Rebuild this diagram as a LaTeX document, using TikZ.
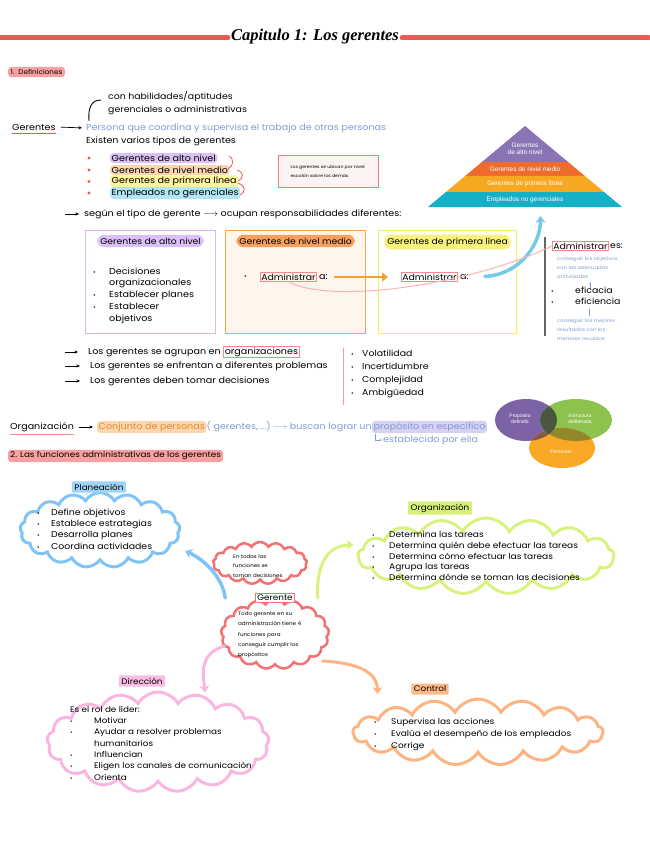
\documentclass[tikz,border=0pt]{standalone}
\usepackage{fontspec}
\setmainfont{Poppins}[FakeStretch=1.1]
\newfontfamily\pyrfont{Liberation Sans}
\newfontfamily\titlefont{Liberation Serif}
\usetikzlibrary{shapes.symbols,arrows.meta,positioning,calc}

\definecolor{tred}{HTML}{F25757}
\definecolor{secpink}{HTML}{F8A0A0}
\definecolor{tblue}{HTML}{7D9DD0}
\definecolor{hpurple}{HTML}{DDBFF7}
\definecolor{horange}{HTML}{FDD5B0}
\definecolor{hyellow}{HTML}{FBF59E}
\definecolor{hcyan}{HTML}{B2E6F7}
\definecolor{hlav}{HTML}{D9D1F2}
\definecolor{bxpurple}{HTML}{D9B5EF}
\definecolor{bxorange}{HTML}{F6A24E}
\definecolor{bxyellow}{HTML}{F7EF5C}
\definecolor{pillorange}{HTML}{F7A05E}
\definecolor{pillyellow}{HTML}{F8F27A}
\definecolor{arrorange}{HTML}{F5A033}
\definecolor{arrcyan}{HTML}{74CBE6}
\definecolor{pyrpur}{HTML}{8A74B4}
\definecolor{pyrred}{HTML}{EE6B2D}
\definecolor{pyrora}{HTML}{F6A823}
\definecolor{pyrteal}{HTML}{15AFC6}
\definecolor{vpur}{HTML}{7D62A6}
\definecolor{vgre}{HTML}{8DC24F}
\definecolor{vora}{HTML}{F8A824}
\definecolor{cblue}{HTML}{80C4F7}
\definecolor{clime}{HTML}{D8F27E}
\definecolor{corange}{HTML}{FDB482}
\definecolor{cpink}{HTML}{FBB6E0}
\definecolor{cred}{HTML}{F27272}
\definecolor{tagblue}{HTML}{9ED4F7}
\definecolor{taglime}{HTML}{D6F07A}
\definecolor{tagorange}{HTML}{FDBA8A}
\definecolor{tagpink}{HTML}{F9BCE4}

\newcommand{\bul}[1][14pt]{\makebox[#1][l]{\scalebox{.7}{\textbullet}}}
\newcommand{\rmark}[1]{{\setlength{\fboxsep}{.8pt}\setlength{\fboxrule}{.6pt}\fcolorbox{tred!70}{white}{#1}}}

\begin{document}
\begin{tikzpicture}[x=1pt,y=-1pt,
    txt/.style={anchor=west,inner sep=0pt,font=\fontsize{8.7}{10}\selectfont},
    blu/.style={txt,text=tblue},
    lst/.style={txt,align=left},
    tinytxt/.style={anchor=west,inner sep=0pt,align=left,text=tblue,font=\fontsize{4.8}{9}\selectfont},
    hl/.style={txt,inner sep=1.5pt,rounded corners=3pt},
    pill/.style={inner sep=3pt,rounded corners=7pt,font=\fontsize{8.4}{9}\selectfont},
    redbox/.style={anchor=west,draw=tred!70,line width=.6pt,inner sep=1pt,font=\fontsize{8.5}{10}\selectfont},
    arr/.style={-{Stealth[length=3.5pt,width=3pt]},line width=.7pt},
    puff/.style={cloud,cloud puffs=17,cloud puff arc=120,cloud ignores aspect,draw,line width=3pt},
    tag/.style={inner sep=2.5pt,rounded corners=1pt,font=\fontsize{8}{9}\selectfont},
    thickarr/.style={line width=3.5pt,line cap=round,-{Stealth[length=7pt,width=10pt]}},
    pyr/.style={text=white,align=center,font=\pyrfont\fontsize{6.5}{9}\selectfont}
  ]
  \useasboundingbox (0,0) rectangle (649,848);

  % titulo
  \node[font=\titlefont\bfseries\itshape\fontsize{16.5}{18}\selectfont,inner sep=3pt] (title) at (315,37) {Capitulo 1: Los gerentes};
  \coordinate (tl) at (0,38);
  \coordinate (tr) at (649,38);
  \draw[tred,line width=5pt,line cap=round] (tl) -- (title.west |- tl);
  \draw[tred,line width=5pt,line cap=round] (title.east |- tr) -- (tr);

  % 1. definiciones
  \node[hl,fill=secpink,font=\fontsize{6.6}{7}\selectfont,inner sep=2.5pt] (sec1) at (8,72) {1.\ \ Definiciones};
  \node[txt] (ger) at (12,127) {Gerentes};
  \draw[tred,line width=1pt] ($(ger.south west)+(0,3)$) -- ($(ger.south east)+(0,3)$);
  \node[blu] (def) at (86,128) {Persona que coordina y supervisa el trabajo de otras personas};
  \draw[arr,shorten <=5pt,shorten >=4pt] (ger.east) -- (def.west);
  \node[lst,font=\fontsize{8.5}{13}\selectfont] (hab) at (108,103.5) {con habilidades/aptitudes\\gerenciales o administrativas};
  \draw[line width=.9pt] (89,121) .. controls (88,108) and (91,100) .. (101,100);
  \node[txt] (tipos) at (86,141) {Existen varios tipos de gerentes};

  % tipos de gerentes
  \node[hl,fill=hpurple] (alto) at (110,158) {Gerentes de alto nivel};
  \node[hl,fill=horange] (medio) at (110,170) {Gerentes de nivel medio};
  \node[hl,fill=hyellow] (prim) at (110,181.5) {Gerentes de primera línea};
  \node[hl,fill=hcyan] (emp) at (110,193) {Empleados no gerenciales};
  \foreach \y in {158,170,181.5,193} \fill[tred] (89,\y) circle (1.7);
  \draw[tred,line width=.8pt] (229,156) .. controls (234,158) and (234,166) .. (228,169);
  \draw[tred,line width=.8pt] (237,170) .. controls (244,172) and (244,178) .. (238,181);
  \draw[tred,line width=.8pt] (238,183) .. controls (246,186) and (246,192) .. (240,195);
  \node[draw=tred!80,fill=tred!7,line width=.9pt,minimum width=100,minimum height=32,align=left,font=\fontsize{4.2}{9}\selectfont] (nota) at (328,171) {Los gerentes se ubican por nivel:\\escalón sobre los demás};

  % piramide
  \coordinate (apex) at (525,126);
  \coordinate (bl) at (428,207);
  \coordinate (br) at (622,207);
  \fill[pyrpur] (apex) -- ($(apex)!.444!(bl)$) -- ($(apex)!.444!(br)$) -- cycle;
  \fill[pyrred] ($(apex)!.444!(bl)$) -- ($(apex)!.617!(bl)$) -- ($(apex)!.617!(br)$) -- ($(apex)!.444!(br)$) -- cycle;
  \fill[pyrora] ($(apex)!.617!(bl)$) -- ($(apex)!.815!(bl)$) -- ($(apex)!.815!(br)$) -- ($(apex)!.617!(br)$) -- cycle;
  \fill[pyrteal] ($(apex)!.815!(bl)$) -- (bl) -- (br) -- ($(apex)!.815!(br)$) -- cycle;
  \node[pyr] (py1) at (525,149) {Gerentes\\[-2pt]de alto nivel};
  \node[pyr] (py2) at (525,169) {Gerentes de nivel medio};
  \node[pyr] (py3) at (525,184) {Gerentes de primera línea};
  \node[pyr] (py4) at (525,199.5) {Empleados no gerenciales};

  % responsabilidades
  \node[txt] (segun) at (84,214) {según el tipo de gerente $\longrightarrow$ ocupan responsabilidades diferentes:};
  \coordinate (s0) at (65,214);
  \draw[arr,shorten >=5pt] (s0) -- (segun.west);
  \node[draw=bxpurple,line width=1pt,minimum width=130,minimum height=103,anchor=north west] (bxA) at (85,230) {};
  \node[draw=bxorange,fill=bxorange!10,line width=1.2pt,minimum width=140,minimum height=103,anchor=north west] (bxM) at (225,230) {};
  \node[draw=bxyellow,line width=1.2pt,minimum width=138,minimum height=103,anchor=north west] (bxP) at (378,230) {};
  \node[pill,fill=hpurple] (pA) at ($(bxA.north)+(0,11)$) {Gerentes de alto nivel};
  \node[pill,fill=pillorange] (pM) at ($(bxM.north)+(0,11)$) {Gerentes de nivel medio};
  \node[pill,fill=pillyellow] (pP) at ($(bxP.north)+(0,12)$) {Gerentes de primera línea};
  \node[lst,font=\fontsize{8.7}{11.75}\selectfont] (decA) at (93,295.5) {\bul[16pt]Decisiones\\\hspace*{16pt}organizacionales\\\bul[16pt]Establecer planes\\\bul[16pt]Establecer\\\hspace*{16pt}objetivos};
  \node[txt] (bM) at (244,277) {\scalebox{.7}{\textbullet}};
  \node[redbox] (admM) at (260,277) {Administrar};
  \node[txt,right=2pt of admM] (aM) {a:};
  \node[redbox] (admP) at (401,277) {Administrar};
  \node[txt,right=2pt of admP] (aP) {a:};
  \draw[line width=2.6pt,arrorange,-{Triangle[length=6pt,width=9pt]},shorten <=6pt,shorten >=13pt] (aM.east) -- (admP.west);
  \coordinate (pbase) at ($(bl)!.58!(br)$);
  \draw[thickarr,arrcyan,shorten <=16pt,shorten >=9pt] (aP.east) .. controls +(50,-2) and +(0,38) .. (pbase);

  % administrar es
  \draw[black!60,line width=1.3pt] (545,237) -- (545,336);
  \node[redbox] (admE) at (552,246) {Administrar};
  \node[txt,right=1pt of admE,font=\fontsize{8.5}{10}\selectfont] (esE) {es:};
  \draw[tred!45,line width=1pt] (admM.south) .. controls (330,305) and (470,285) .. (admE.west);
  \node[tinytxt] (obj) at (557,268) {conseguir los objetivos\\con las adecuadas\\actividades};
  \draw[tblue,line width=.5pt,-{Stealth[length=2pt]}] (590,289) -- (590,282);
  \node[lst,font=\fontsize{8.5}{11.5}\selectfont] (efi) at (551,296) {\bul[24pt]eficacia\\\bul[24pt]eficiencia};
  \draw[tblue,line width=.5pt] (589,309) -- (589,316);
  \node[tinytxt] (res) at (557,330) {conseguir los mejores\\resultados con los\\menores recursos};

  % entorno
  \node[txt] (agr) at (88,352) {Los gerentes se agrupan en \rmark{organizaciones}};
  \node[txt] (enf) at (90,366) {Los gerentes se enfrentan a diferentes problemas};
  \node[txt] (dec) at (90,381) {Los gerentes deben tomar decisiones};
  \foreach \n/\y in {agr/352,enf/366,dec/381} {
    \coordinate (a\n) at (65,\y);
    \draw[arr,shorten >=10pt] (a\n) -- (\n.west);
  }
  \draw[tred!60,line width=.8pt] (343,348) -- (343,405);
  \node[lst,font=\fontsize{8.5}{13}\selectfont] (vuca) at (351,373.5) {\bul[11pt]Volatilidad\\\bul[11pt]Incertidumbre\\\bul[11pt]Complejidad\\\bul[11pt]Ambigüedad};

  % organizacion
  \node[txt] (org) at (10,427) {Organización};
  \draw[tred!70,line width=1pt] ($(org.south west)+(0,3)$) -- ($(org.south east)+(0,3)$);
  \node[hl,fill=horange,text=arrorange!90!black] (conj) at (97,427) {Conjunto de personas};
  \draw[arr,shorten <=5pt,shorten >=4pt] (org.east) -- (conj.west);
  \node[blu,right=0pt of conj] (busc) {( gerentes, ...)$\,\longrightarrow$ buscan lograr un};
  \node[hl,fill=hlav,text=tblue,right=0pt of busc] (prop) {propósito en específico};
  \node[blu] (est) at (383,440) {establecido por ella};
  \draw[tblue,line width=.6pt,-{Stealth[length=2.5pt]}] ($(est.west)+(-8,-6)$) |- ($(est.west)+(-1,0)$);

  % diagrama de venn
  \coordinate (vp) at (526,420);
  \coordinate (vg) at (576,420);
  \coordinate (vo) at (562,448);
  \fill[vpur] (vp) ellipse (31 and 21);
  \fill[vgre] (vg) ellipse (36 and 21);
  \fill[vora] (vo) ellipse (33 and 20);
  \begin{scope}
    \clip (vo) ellipse (33 and 20);
    \fill[vpur!55!vora!70!black] (vp) ellipse (31 and 21);
    \fill[vgre!50!vora!75!black] (vg) ellipse (36 and 21);
  \end{scope}
  \begin{scope}
    \clip (vp) ellipse (31 and 21);
    \fill[vpur!40!vgre!55!black] (vg) ellipse (36 and 21);
  \end{scope}
  \node[pyr,font=\pyrfont\fontsize{5}{6}\selectfont] (v1) at (520,419) {Propósito\\definido};
  \node[pyr,font=\pyrfont\fontsize{5}{6}\selectfont] (v2) at (580,419) {Estructura\\deliberada};
  \node[pyr,font=\pyrfont\fontsize{5}{6}\selectfont] (v3) at (561,452) {Personas};

  % 2. funciones
  \node[hl,fill=secpink,inner sep=2pt,font=\fontsize{8}{9}\selectfont] (sec2) at (8,456) {2. Las funciones administrativas de los gerentes};

  % planeacion
  \node[puff,draw=cblue,minimum width=160,minimum height=75] (planc) at (100,530) {};
  \node[tag,fill=tagblue] (plant) at (99,487) {Planeación};
  \node[lst,font=\fontsize{8.5}{11.3}\selectfont] (planl) at (37,529) {\bul Define objetivos\\\bul Establece estrategias\\\bul Desarrolla planes\\\bul Coordina actividades};

  % organizacion
  \node[puff,draw=clime,minimum width=256,minimum height=76] (orgc) at (486,556) {};
  \node[tag,fill=taglime] (orgt) at (440,508) {Organización};
  \node[lst,font=\fontsize{8.2}{10.8}\selectfont] (orgl) at (372,556) {\bul[17pt]Determina las tareas\\\bul[17pt]Determina quién debe efectuar las tareas\\\bul[17pt]Determina cómo efectuar las tareas\\\bul[17pt]Agrupa las tareas\\\bul[17pt]Determina dónde se toman las decisiones};

  % control
  \node[puff,draw=corange,minimum width=250,minimum height=66] (ctrlc) at (478,732) {};
  \node[tag,fill=tagorange] (ctrlt) at (430,689) {Control};
  \node[lst,font=\fontsize{8.2}{12}\selectfont] (ctrll) at (374,734) {\bul[17pt]Supervisa las acciones\\\bul[17pt]Evalúa el desempeño de los empleados\\\bul[17pt]Corrige};

  % direccion
  \node[puff,draw=cpink,minimum width=222,minimum height=100] (dirc) at (158,742) {};
  \node[tag,fill=tagpink] (dirt) at (142,681) {Dirección};
  \node[lst,font=\fontsize{8}{11.3}\selectfont] (dirl) at (70,743) {Es el rol de líder:\\\bul[24pt]Motivar\\\bul[24pt]Ayudar a resolver problemas\\\hspace*{24pt}humanitarios\\\bul[24pt]Influencian\\\bul[24pt]Eligen los canales de comunicación\\\bul[24pt]Orienta};

  % gerente
  \node[puff,draw=cred,line width=2.5pt,minimum width=108,minimum height=70] (gerc) at (275,634) {};
  \node[draw=cred,fill=white,line width=.8pt,inner sep=1.5pt,font=\fontsize{8}{9}\selectfont] (gert) at (275,598) {Gerente};
  \node[lst,font=\fontsize{5.1}{10.3}\selectfont] (gerl) at (238,635) {Todo gerente en su\\administración tiene 4\\funciones para\\conseguir cumplir los\\propósitos};
  \node[puff,draw=cred,line width=2.5pt,minimum width=94,minimum height=42] (decc) at (260,563) {};
  \node[lst,font=\fontsize{5}{9.5}\selectfont] (decl) at (233,566) {En todas las\\funciones se\\toman decisiones};

  % flechas de funciones
  \draw[thickarr,cblue] ($(gerc.west)+(5,-36)$) .. controls +(-3,-22) and +(18,8) .. ($(planc.east)+(4,21)$);
  \draw[thickarr,clime,line width=3pt] ($(gerc.east)+(-12,-36)$) .. controls +(-2,-35) and +(-25,0) .. ($(orgc.west)+(-3,-11)$);
  \draw[thickarr,corange,line width=3pt] ($(gerc.east)+(-7,27)$) .. controls +(35,2) and +(0,-22) .. ($(ctrlc.west)+(26,-38)$);
  \draw[thickarr,cpink,line width=3pt] ($(gerc.west)+(4,12)$) .. controls +(-25,8) and +(-2,-20) .. ($(dirc.north)+(47,2)$);
\end{tikzpicture}
\end{document}
